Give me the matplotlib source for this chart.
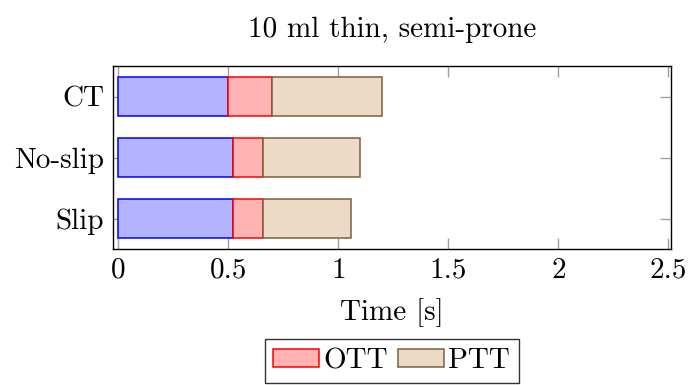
import matplotlib.pyplot as plt
import numpy as np

plt.rcParams['font.family'] = 'cmr10'
plt.rcParams['mathtext.fontset'] = 'cm'
plt.rcParams['axes.formatter.use_mathtext'] = True

cases = ["Slip", "No-slip", "CT"]
first = [0.52, 0.52, 0.50]
ott = [0.14, 0.14, 0.20]
ptt = [0.40, 0.44, 0.50]
xticks = [0, 0.5, 1, 1.5, 2, 2.5]

fig = plt.figure(figsize=(6.9, 3.85), dpi=100)
ax = fig.add_axes([0.1633, 0.3525, 0.8092, 0.4761])

y = np.arange(len(cases))
h = 0.646
left = np.zeros(len(cases))
ax.barh(y, first, h, left=left, color="#b3b3ff", edgecolor="blue", lw=1.1, zorder=3)
left += first
ax.barh(y, ott, h, left=left, color="#ffb3b3", edgecolor="red", lw=1.1, zorder=3, label="OTT")
left += ott
ax.barh(y, ptt, h, left=left, color="#ecd9c6", edgecolor="#7f5f3f", lw=1.1, zorder=3, label="PTT")

ax.set_xlim(-0.025, 2.512)
ax.set_ylim(-0.5, 2.5)
ax.set_xticks(xticks)
ax.set_xticklabels(["0", "0.5", "1", "1.5", "2", "2.5"])
ax.set_yticks(y)
ax.set_yticklabels(cases)
ax.tick_params(direction="in", length=8, width=1.0, color="#a0a0a0", labelsize=21,
               top=True, right=True, pad=6)
for s in ax.spines.values():
    s.set_linewidth(1.0)

ax.set_xlabel("Time [s]", fontsize=21, labelpad=10)
ax.set_title("10 ml thin, semi-prone", fontsize=21, pad=21)

leg = ax.legend(loc="upper center", bbox_to_anchor=(0.5, -0.49), ncol=2,
                fontsize=21, frameon=True, fancybox=False, edgecolor="black",
                handlelength=1.55, handleheight=0.55, handletextpad=0.17,
                columnspacing=0.35, borderpad=0.3, borderaxespad=0)
leg.get_frame().set_linewidth(1.0)

fig.savefig("out.png", dpi=100)
